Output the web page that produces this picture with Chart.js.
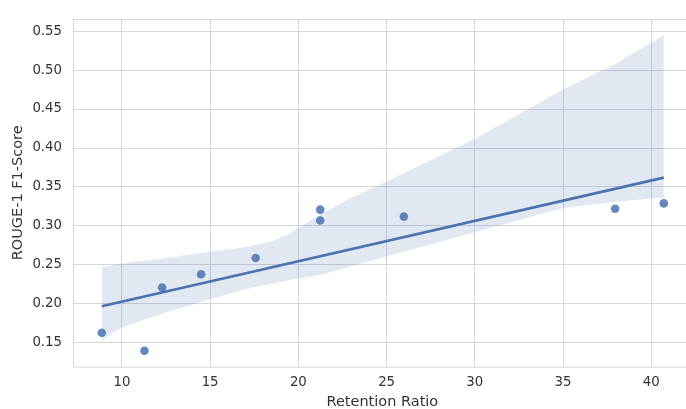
<!DOCTYPE html>
<html>
<head>
<meta charset="utf-8">
<script src="https://cdn.jsdelivr.net/npm/chart.js@4.4.0/dist/chart.umd.min.js"></script>
<style>
  html, body { margin: 0; padding: 0; background: #fff; overflow: hidden; }
  canvas { display: block; }
</style>
</head>
<body>
<canvas id="regChart" width="696" height="409"></canvas>
<script>
// scatter points (retention ratio vs ROUGE-1 F1)
const retention = [8.86, 11.28, 12.28, 14.49, 17.58, 21.24, 21.24, 25.98, 37.95, 40.71];
const rouge1 = [0.163, 0.140, 0.221, 0.238, 0.259, 0.321, 0.307, 0.312, 0.322, 0.329];

// fitted line, read at its two ends
const fitX = [8.86, 40.71];
const fitY = [0.197, 0.362];

// confidence band, read along its edges
const bandX = [8.86, 10, 12.5, 15, 17, 18.5, 19.4, 20.2, 21.2, 22.8, 25, 30, 35, 38, 40.71];
const bandUpper = [0.247, 0.252, 0.259, 0.267, 0.273, 0.280, 0.289, 0.300, 0.314, 0.334, 0.357, 0.412, 0.475, 0.508, 0.545];
const bandLower = [0.153, 0.170, 0.189, 0.206, 0.219, 0.226, 0.230, 0.233, 0.237, 0.247, 0.261, 0.292, 0.323, 0.331, 0.3365];

const xTicks = [10, 15, 20, 25, 30, 35, 40];
const yTicks = [0.15, 0.20, 0.25, 0.30, 0.35, 0.40, 0.45, 0.50, 0.55];

const toPoints = (xs, ys) => xs.map((x, i) => ({ x: x, y: ys[i] }));

const gridColor = '#d6d6da';
const blue = '#4c72b0';

// outline of the whole plot area (seaborn style frame)
const frame = {
  id: 'frame',
  afterDraw(chart) {
    const { ctx, chartArea: a } = chart;
    ctx.save();
    ctx.strokeStyle = gridColor;
    ctx.lineWidth = 1;
    ctx.strokeRect(a.left + 0.5, a.top + 0.5, a.right - a.left, a.bottom - a.top);
    ctx.restore();
  }
};

new Chart(document.getElementById('regChart'), {
  type: 'line',
  data: {
    datasets: [
      {
        data: toPoints(bandX, bandUpper),
        borderWidth: 0,
        pointRadius: 0,
        backgroundColor: 'rgba(76, 114, 176, 0.16)',
        fill: '+1',
        order: 3
      },
      {
        data: toPoints(bandX, bandLower),
        borderWidth: 0,
        pointRadius: 0,
        fill: false,
        order: 3
      },
      {
        data: toPoints(fitX, fitY),
        borderColor: blue,
        borderWidth: 2.6,
        pointRadius: 0,
        fill: false,
        order: 1
      },
      {
        data: toPoints(retention, rouge1),
        showLine: false,
        pointRadius: 4.3,
        pointBorderWidth: 0,
        pointBackgroundColor: 'rgba(76, 114, 176, 0.85)',
        order: 0
      }
    ]
  },
  options: {
    responsive: false,
    animation: false,
    layout: { padding: { top: 13, right: 1, left: 0, bottom: 0 } },
    plugins: { legend: { display: false }, tooltip: { enabled: false } },
    elements: { line: { tension: 0 } },
    scales: {
      x: {
        type: 'linear',
        min: 7.23,
        max: 42.29,
        afterFit: (s) => { s.height = 42.3; },
        afterBuildTicks: (s) => { s.ticks = xTicks.map(v => ({ value: v })); },
        grid: { color: gridColor, drawTicks: false },
        border: { display: false },
        ticks: {
          padding: 8,
          color: '#333',
          font: { family: 'DejaVu Sans', size: 13.3 }
        },
        title: {
          display: true,
          text: 'Retention Ratio',
          color: '#333',
          padding: { top: 0, bottom: 0 },
          font: { family: 'DejaVu Sans', size: 14.5, lineHeight: 1 }
        }
      },
      y: {
        min: 0.1195,
        max: 0.5655,
        afterFit: (s) => { s.width = 73; },
        afterBuildTicks: (s) => { s.ticks = yTicks.map(v => ({ value: v })); },
        grid: { color: gridColor, drawTicks: false },
        border: { display: false },
        ticks: {
          padding: 11,
          color: '#333',
          font: { family: 'DejaVu Sans', size: 13.3 },
          callback: (v) => Number(v).toFixed(2)
        },
        title: {
          display: true,
          text: 'ROUGE-1 F1-Score',
          color: '#333',
          padding: { top: 11, bottom: 0 },
          font: { family: 'DejaVu Sans', size: 14.5, lineHeight: 1 }
        }
      }
    }
  },
  plugins: [frame]
});
</script>
</body>
</html>
